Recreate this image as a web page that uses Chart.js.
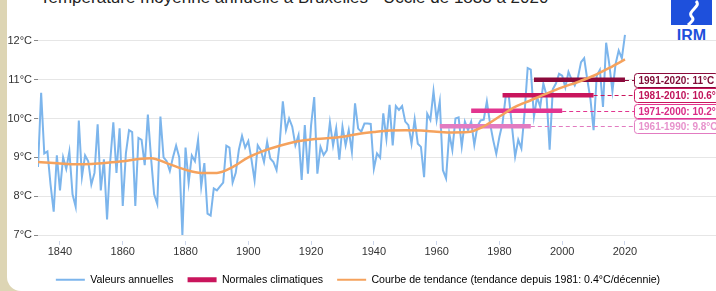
<!DOCTYPE html>
<html>
<head>
<meta charset="utf-8">
<script src="https://cdn.jsdelivr.net/npm/chart.js@4.4.0/dist/chart.umd.min.js"></script>
<style>
html, body { margin: 0; padding: 0; background: #ddd5b4; }
#cadre { position: relative; width: 716px; height: 291px; overflow: hidden; background: #ddd5b4; }
#panneau { position: absolute; left: 7px; top: 0; width: 709px; height: 291px; background: #fff; border-bottom-left-radius: 14px; }
#zone { position: absolute; left: 0; top: 0; width: 716px; height: 295px; }
#titre { position: absolute; left: 40px; top: -12px; font: 17px "Liberation Sans", Arial, sans-serif; color: #222; white-space: nowrap; }
#logo { position: absolute; left: 671px; top: 0; width: 41px; }
#logo .irm { color: #1e50dc; font: bold 16px "Liberation Sans", Arial, sans-serif; line-height: 13px; text-align: center; }
</style>
</head>
<body>
<div id="cadre">
  <div id="panneau"></div>
  <div id="titre">Température moyenne annuelle à Bruxelles - Uccle de 1833 à 2020</div>
  <div id="logo">
    <svg width="41" height="25"><rect width="41" height="25" fill="#1e50dc"/><path d="M25 1 C 31 7, 15 11, 21 17 C 24 20, 19 23, 17 25" stroke="#fff" stroke-width="3" fill="none"/></svg>
    <div class="irm">IRM</div>
  </div>
  <div id="zone"><canvas id="graphique"></canvas></div>
</div>
<script>
// données
const premiereAnnee = 1833;
const valeursAnnuelles = [
  8.75, 10.66, 9.1, 9.15, 8.3, 7.6, 9.05, 8.15, 9.0, 8.7,
  9.15, 8.05, 7.73, 9.95, 8.5, 9.05, 8.9, 8.3, 8.6, 9.85,
  8.15, 8.95, 7.4, 8.9, 9.9, 8.6, 9.75, 7.75, 9.1, 9.7,
  9.65, 7.75, 9.5, 9.45, 8.8, 10.1, 9.0, 8.05, 7.8, 10.05,
  9.0, 8.9, 8.65, 9.0, 9.3, 9.0, 7.0, 9.25, 8.35, 9.05,
  8.9, 9.45, 8.25, 8.85, 7.55, 7.5, 8.2, 8.15, 8.25, 8.35,
  9.3, 9.25, 8.35, 8.6, 9.2, 9.55, 9.25, 9.42, 8.95, 8.41,
  9.31, 9.18, 8.88, 9.4, 8.97, 8.88, 8.67, 9.36, 10.44, 9.7,
  10.0, 9.79, 9.31, 9.57, 8.42, 9.83, 8.58, 9.83, 10.55, 8.58,
  9.27, 9.06, 9.18, 9.9, 9.31, 9.75, 8.94, 9.79, 9.31, 9.7,
  9.14, 10.39, 9.74, 9.66, 9.87, 9.87, 9.86, 8.71, 9.1, 8.99,
  10.13, 9.48, 10.35, 9.31, 10.32, 10.22, 10.32, 9.92, 9.83, 9.35,
  9.98, 9.35, 9.27, 8.49, 10.12, 9.96, 10.7, 9.96, 10.44, 8.67,
  8.46, 9.62, 9.19, 10.0, 10.03, 9.28, 9.92, 9.7, 9.92, 9.32,
  9.8, 9.95, 9.97, 10.44, 9.88, 9.45, 9.09, 9.53, 9.88, 10.57,
  10.57, 9.8, 9.02, 9.45, 9.23, 10.14, 11.3, 11.26, 10.05, 10.55,
  10.3, 10.9, 10.6, 9.2, 10.75, 10.9, 11.15, 11.1, 10.8, 11.2,
  11.0, 10.85, 11.05, 11.45, 11.55, 11.0, 10.5, 9.7, 11.1, 11.25,
  10.3, 11.95, 11.4, 10.7, 11.4, 11.75, 11.55, 12.15
];

const anneesTendance = [1833, 1840, 1845, 1850, 1855, 1860, 1865, 1869, 1875, 1880, 1885, 1890, 1895,
  1900, 1905, 1910, 1915, 1920, 1925, 1930, 1935, 1940, 1945, 1950, 1955, 1960, 1965, 1970,
  1975, 1980, 1985, 1990, 1995, 2000, 2005, 2010, 2015, 2020];
const valeursTendance = [8.88, 8.84, 8.82, 8.83, 8.86, 8.9, 8.96, 8.98, 8.82, 8.68, 8.6, 8.6, 8.75,
  9.0, 9.17, 9.3, 9.4, 9.46, 9.49, 9.53, 9.6, 9.65, 9.69, 9.7, 9.69, 9.66, 9.64, 9.65,
  9.8, 10.05, 10.3, 10.47, 10.64, 10.8, 10.94, 11.1, 11.3, 11.52];

const normalesPeriodes = ['1961-1990', '1971-2000', '1981-2010', '1991-2020'];
const normalesDebut = [1961, 1971, 1981, 1991];
const normalesFin = [1990, 2000, 2010, 2020];
const normalesValeurs = [9.8, 10.2, 10.6, 11];
const normalesCouleurs = ['#e27bc1', '#e2358f', '#c9155c', '#8b0a3b'];
const normalesTexte = ['#e792cc', '#d92a86', '#c0145a', '#7f0a36'];

const ticksX = [1840, 1860, 1880, 1900, 1920, 1940, 1960, 1980, 2000, 2020];
const ticksY = [7, 8, 9, 10, 11, 12];

const police = '"Liberation Sans", Arial, sans-serif';

// étiquettes des normales à droite
const etiquettesNormales = {
  id: 'etiquettesNormales',
  afterDatasetsDraw(chart) {
    const ctx = chart.ctx;
    const x = chart.scales.x, y = chart.scales.y;
    const xBoite = x.getPixelForValue(2020) + 10;
    ctx.save();
    ctx.font = 'bold 10px ' + police;
    ctx.textBaseline = 'middle';
    normalesPeriodes.forEach((periode, i) => {
      const yy = Math.round(y.getPixelForValue(normalesValeurs[i])) + 0.5;
      const x0 = x.getPixelForValue(normalesFin[i]);
      ctx.strokeStyle = normalesCouleurs[i];
      ctx.lineWidth = 1;
      ctx.setLineDash([4, 3]);
      ctx.beginPath();
      ctx.moveTo(x0, yy);
      ctx.lineTo(xBoite, yy);
      ctx.stroke();
      ctx.setLineDash([]);
      const texte = periode + ': ' + normalesValeurs[i] + '°C';
      const w = ctx.measureText(texte).width + 8;
      ctx.beginPath();
      ctx.roundRect(xBoite - 0.5, yy - 7, w, 14, 3);
      ctx.fillStyle = '#fff';
      ctx.fill();
      ctx.stroke();
      ctx.fillStyle = normalesTexte[i];
      ctx.fillText(texte, xBoite + 3.5, yy + 0.5);
    });
    ctx.restore();
  }
};

const jeux = [];
jeux.push({
  label: 'Courbe de tendance',
  data: anneesTendance.map((a, i) => ({ x: a, y: valeursTendance[i] })),
  borderColor: '#f5a25d',
  borderWidth: 2.5,
  pointRadius: 0,
  cubicInterpolationMode: 'monotone'
});
normalesPeriodes.forEach((p, i) => {
  jeux.push({
    label: p,
    data: [{ x: normalesDebut[i], y: normalesValeurs[i] }, { x: normalesFin[i], y: normalesValeurs[i] }],
    borderColor: normalesCouleurs[i],
    borderWidth: 4.5,
    borderCapStyle: 'butt',
    pointRadius: 0
  });
});
jeux.push({
  label: 'Valeurs annuelles',
  data: valeursAnnuelles.map((v, i) => ({ x: premiereAnnee + i, y: v })),
  borderColor: '#7cb5ec',
  borderWidth: 2,
  pointRadius: 0,
  tension: 0
});

const ctx = document.getElementById('graphique').getContext('2d');
new Chart(ctx, {
  type: 'line',
  data: { datasets: jeux },
  options: {
    responsive: true,
    maintainAspectRatio: false,
    animation: false,
    layout: { padding: { top: 33, left: 0, right: 0, bottom: 0 } },
    plugins: {
      tooltip: { enabled: false },
      legend: {
        position: 'bottom',
        onClick: null,
        labels: {
          color: '#333',
          font: { family: police, size: 10.6 },
          usePointStyle: true,
          pointStyleWidth: 29,
          padding: 14,
          generateLabels: () => [
            { text: 'Valeurs annuelles', strokeStyle: '#7cb5ec', fillStyle: '#7cb5ec', lineWidth: 2, pointStyle: 'line' },
            { text: 'Normales climatiques', strokeStyle: '#c9155c', fillStyle: '#c9155c', lineWidth: 5, pointStyle: 'line' },
            { text: 'Courbe de tendance (tendance depuis 1981: 0.4°C/décennie)', strokeStyle: '#f5a25d', fillStyle: '#f5a25d', lineWidth: 2, pointStyle: 'line' }
          ]
        }
      }
    },
    scales: {
      x: {
        type: 'linear',
        min: 1833,
        max: 2049,
        afterBuildTicks: (axe) => { axe.ticks = ticksX.map(v => ({ value: v })); },
        afterFit: (axe) => { axe.height = 19.5; },
        ticks: {
          autoSkip: false,
          maxRotation: 0,
          color: '#333',
          font: { family: police, size: 11 },
          padding: 0,
          callback: (v) => String(v)
        },
        grid: { drawOnChartArea: false, drawTicks: true, tickLength: 4, tickColor: '#ccd6eb' },
        border: { display: false }
      },
      y: {
        min: 6.85,
        max: 12.2,
        afterBuildTicks: (axe) => { axe.ticks = ticksY.map(v => ({ value: v })); },
        afterFit: (axe) => { axe.width = 38; },
        ticks: {
          color: '#333',
          font: { family: police, size: 11 },
          padding: 2,
          callback: (v) => v + '°C'
        },
        grid: { color: '#e6e6e6', tickColor: '#888', tickLength: 4, lineWidth: 1 },
        border: { display: false }
      }
    }
  },
  plugins: [etiquettesNormales]
});
</script>
</body>
</html>
